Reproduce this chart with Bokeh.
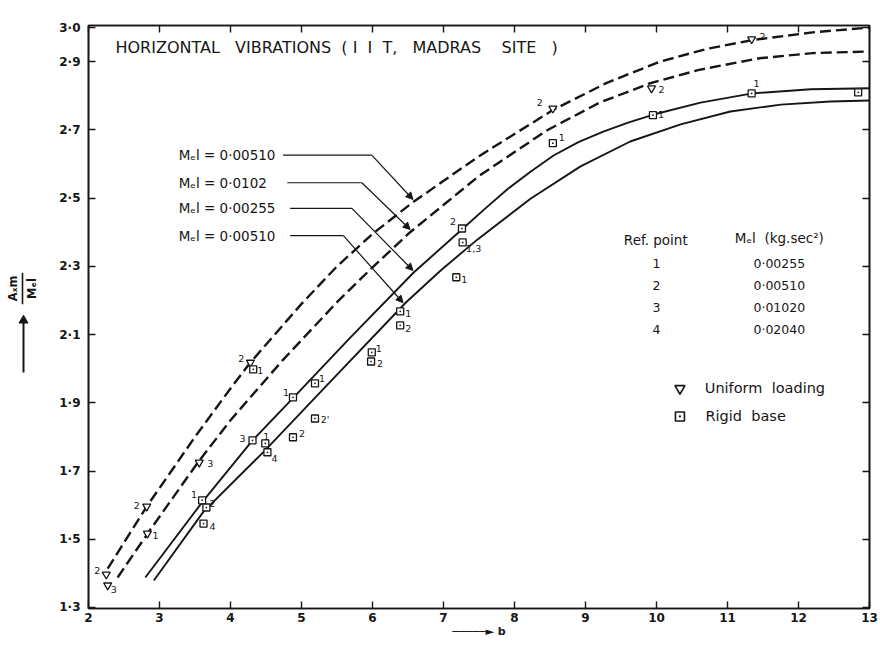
import numpy as np
from bokeh.plotting import figure
from bokeh.layouts import row
from bokeh.models import (Range1d, FixedTicker, LinearAxis, Label, Arrow, NormalHead,
                          ColumnDataSource)
from bokeh.core.properties import value
from bokeh.embed import file_html
from bokeh.resources import INLINE

# ---------------- data ----------------
# curves: b (x) and Ax m / Mel (y)
d1_b = [2.27, 2.83, 3.50, 4.00, 4.28, 5.00, 5.50, 6.00, 6.57, 7.50, 8.54, 9.30, 10.05, 10.70, 11.34, 12.20, 13.0]
d1_y = [1.414, 1.599, 1.800, 1.942, 2.018, 2.190, 2.300, 2.395, 2.488, 2.623, 2.758, 2.838, 2.900, 2.937, 2.963, 2.986, 3.000]
d2_b = [2.41, 2.87, 3.53, 4.00, 4.74, 5.50, 6.00, 6.53, 7.50, 8.46, 9.20, 9.90, 10.60, 11.45, 12.20, 13.0]
d2_y = [1.388, 1.528, 1.722, 1.849, 2.026, 2.195, 2.297, 2.400, 2.565, 2.699, 2.780, 2.836, 2.876, 2.910, 2.925, 2.930]
s1_b = [2.80, 3.61, 4.31, 4.89, 5.69, 6.58, 7.27, 7.59, 7.90, 8.23, 8.55, 8.90, 9.25, 9.61, 9.96, 10.62, 11.35, 12.17, 13.0]
s1_y = [1.388, 1.611, 1.790, 1.916, 2.092, 2.282, 2.410, 2.470, 2.526, 2.578, 2.625, 2.664, 2.695, 2.722, 2.745, 2.780, 2.807, 2.819, 2.822]
s2_b = [2.92, 3.62, 4.47, 5.41, 6.47, 6.96, 7.48, 8.23, 8.93, 9.63, 10.34, 11.04, 11.75, 12.45, 13.0]
s2_y = [1.379, 1.581, 1.757, 1.963, 2.194, 2.288, 2.379, 2.499, 2.593, 2.666, 2.716, 2.754, 2.774, 2.783, 2.786]

curve_labels = ["M\u2091l = 0\u00b700510", "M\u2091l = 0\u00b70102",
                "M\u2091l = 0\u00b700255", "M\u2091l = 0\u00b700510"]
curve_arrow_b = [6.57, 6.53, 6.57, 6.43]

# uniform loading points
ul_b = [2.25, 2.27, 2.82, 2.83, 3.56, 4.28, 8.54, 9.93, 11.34]
ul_y = [1.397, 1.365, 1.596, 1.517, 1.725, 2.018, 2.763, 2.822, 2.966]
ul_ref = ["2", "3", "2", "1", "3", "2", "2", "2", "2"]
# rigid base points
rb_b = [3.60, 3.66, 3.62, 4.32, 4.31, 4.49, 4.52, 4.88, 4.88, 5.19, 5.19, 5.99, 5.98,
        6.39, 6.39, 7.26, 7.27, 7.18, 8.54, 9.95, 11.34, 12.84]
rb_y = [1.614, 1.593, 1.546, 1.998, 1.790, 1.781, 1.755, 1.799, 1.916, 1.957, 1.854,
        2.048, 2.021, 2.168, 2.127, 2.411, 2.370, 2.268, 2.661, 2.743, 2.807, 2.810]
rb_ref = ["1", "2", "4", "1", "3", "1", "4", "2", "1", "1", "2'", "1", "2",
          "1", "2", "2", "1,3", "1", "1", "1", "1", ""]

ref_points = ["1", "2", "3", "4"]
mel_values = ["0\u00b700255", "0\u00b700510", "0\u00b701020", "0\u00b702040"]

x_ticks = list(range(2, 14))
y_ticks = [1.3, 1.5, 1.7, 1.9, 2.1, 2.3, 2.5, 2.7, 2.9, 3.0]
y_tick_labels = ["1\u00b73", "1\u00b75", "1\u00b77", "1\u00b79", "2\u00b71", "2\u00b73",
                 "2\u00b75", "2\u00b77", "2\u00b79", "3\u00b70"]

# ---------------- layout (pixel offsets for point labels) ----------------
ul_off = [(-9, -4), (6, 4), (-10, -1), (8, 2), (11, 1), (-9, -4), (-13, -6), (10, 1), (11, -3)]
rb_off = [(-8, -6), (6, -4), (9, 3), (7, 1), (-10, -2), (1, -7), (7, 6), (9, -4), (-7, -5),
          (7, -5), (10, 1), (7, -4), (9, 2), (8, 2), (8, 3), (-9, -7), (11, 6), (8, 2),
          (9, -6), (8, -1), (5, -10), (0, 0)]

PXX = 71.0   # px per unit b
PXY = 341.1  # px per unit y
NB = "\u00a0"

INK = "#161616"
FONT = "DejaVu Sans"

YR = Range1d(1.297, 3.006)
TOP, BOTTOM = 25, 36

p = figure(width=828, height=644, x_range=Range1d(2, 13), y_range=YR,
           output_backend="svg", toolbar_location=None,
           min_border_left=38, min_border_right=9, min_border_top=TOP, min_border_bottom=BOTTOM)
p.grid.visible = False
p.background_fill_color = "white"
p.border_fill_color = "white"
p.outline_line_color = INK
p.outline_line_width = 1.6

def style_axis(ax, ticks, labels=None, show=True):
    ax.ticker = FixedTicker(ticks=ticks)
    ax.axis_line_color = INK
    ax.axis_line_width = 1.6
    ax.major_tick_line_color = INK
    ax.major_tick_line_width = 1.4
    ax.major_tick_in = 7
    ax.major_tick_out = 0
    ax.minor_tick_line_color = None
    ax.major_label_text_font = FONT
    ax.major_label_text_font_style = "bold"
    ax.major_label_text_font_size = "12px"
    ax.major_label_text_color = INK
    ax.axis_label = None
    if labels is not None:
        ax.major_label_overrides = labels
    if not show:
        ax.major_label_overrides = {t: "" for t in ticks}
        ax.major_label_standoff = 0

style_axis(p.xaxis[0], x_ticks)
p.xaxis[0].major_label_standoff = 4
p.xaxis[0].axis_label = "\u2500\u2500\u2500\u2500\u2500\u25ba b"
p.xaxis[0].axis_label_standoff = 0
p.xaxis[0].axis_label_text_font = FONT
p.xaxis[0].axis_label_text_font_size = "11px"
p.xaxis[0].axis_label_text_font_style = "bold"
p.xaxis[0].axis_label_text_color = INK
style_axis(p.yaxis[0], y_ticks, {t: l for t, l in zip(y_ticks, y_tick_labels)})
p.yaxis[0].major_label_standoff = 8

top = LinearAxis()
style_axis(top, x_ticks, show=False)
p.add_layout(top, "above")
right = LinearAxis()
style_axis(right, y_ticks, show=False)
p.add_layout(right, "right")

# curves
p.line(d1_b, d1_y, line_color=INK, line_width=2.4, line_dash="11 5")
p.line(d2_b, d2_y, line_color=INK, line_width=2.4, line_dash="11 5")
p.line(s1_b, s1_y, line_color=INK, line_width=1.9)
p.line(s2_b, s2_y, line_color=INK, line_width=1.9)

# points
p.scatter(ul_b, ul_y, marker="inverted_triangle", size=8, fill_color="white",
          line_color=INK, line_width=1.3)
p.scatter(rb_b, rb_y, marker="square_dot", size=7, fill_color="white",
          line_color=INK, line_width=1.3)

def label_src(bs, ys, refs, offs):
    return ColumnDataSource(dict(
        x=[b + dx / PXX for b, (dx, dy) in zip(bs, offs)],
        y=[y - dy / PXY for y, (dx, dy) in zip(ys, offs)],
        t=refs))

for src in (label_src(ul_b, ul_y, ul_ref, ul_off), label_src(rb_b, rb_y, rb_ref, rb_off)):
    p.text("x", "y", text="t", source=src, text_font=value(FONT), text_font_size="9.5px",
           text_color=INK, text_align="center", text_baseline="middle")

# curve annotations with leader arrows
curves = [(d1_b, d1_y), (d2_b, d2_y), (s1_b, s1_y), (s2_b, s2_y)]
lab_y = [2.626, 2.545, 2.470, 2.390]
lab_x = 3.27
line_start = [4.74, 4.80, 4.84, 4.84]
elbow = [5.99, 5.85, 5.71, 5.59]
for i, (cb, cy) in enumerate(curves):
    tip_b = curve_arrow_b[i]
    tip_y = float(np.interp(tip_b, cb, cy))
    p.add_layout(Label(x=lab_x, y=lab_y[i], text=curve_labels[i], text_font=FONT,
                       text_font_size="13.5px", text_color=INK, text_baseline="middle"))
    p.line([line_start[i], elbow[i]], [lab_y[i], lab_y[i]], line_color=INK, line_width=1.2)
    p.add_layout(Arrow(x_start=elbow[i], y_start=lab_y[i], x_end=tip_b, y_end=tip_y + 0.008,
                       line_color=INK, line_width=1.2,
                       end=NormalHead(size=7, fill_color=INK, line_color=INK)))

# title
title_text = ("HORIZONTAL " + NB * 2 + "VIBRATIONS " + NB + "( I " + NB + "I " + NB + "T, "
              + NB * 2 + "MADRAS " + NB * 3 + "SITE " + NB * 2 + ")")
p.add_layout(Label(x=2.38, y=2.9416, text=title_text, text_font=FONT, text_font_size="16px",
                   text_color=INK, text_baseline="middle"))

# reference table
p.add_layout(Label(x=9.99, y=2.376, text="Ref. point", text_font=FONT, text_font_size="13.5px",
                   text_color=INK, text_align="center", text_baseline="middle"))
p.add_layout(Label(x=11.73, y=2.382, text="M\u2091l " + NB + "(kg.sec\u00b2)", text_font=FONT,
                   text_font_size="13.5px", text_color=INK, text_align="center",
                   text_baseline="middle"))
row_y0, row_dy = 2.309, 0.0647
tbl = ColumnDataSource(dict(
    xr=[10.0] * 4, xv=[11.73] * 4,
    y=[row_y0 - i * row_dy for i in range(4)],
    r=ref_points, v=mel_values))
p.text("xr", "y", text="r", source=tbl, text_font=value(FONT), text_font_size="12.5px",
       text_color=INK, text_align="center", text_baseline="middle")
p.text("xv", "y", text="v", source=tbl, text_font=value(FONT), text_font_size="12.5px",
       text_color=INK, text_align="center", text_baseline="middle")

# key
p.scatter([10.33], [1.942], marker="inverted_triangle", size=10, fill_color="white",
          line_color=INK, line_width=1.6)
p.scatter([10.33], [1.860], marker="square_dot", size=9, fill_color="white",
          line_color=INK, line_width=1.6)
p.add_layout(Label(x=10.68, y=1.942, text="Uniform " + NB + "loading", text_font=FONT,
                   text_font_size="14.5px", text_color=INK, text_baseline="middle"))
p.add_layout(Label(x=10.69, y=1.860, text="Rigid " + NB + "base", text_font=FONT,
                   text_font_size="14.5px", text_color=INK, text_baseline="middle"))

# ---------------- y-axis title panel ----------------
lf = figure(width=50, height=644, x_range=Range1d(0, 50), y_range=YR,
            x_axis_type=None, y_axis_type=None, output_backend="svg", toolbar_location=None,
            min_border_left=0, min_border_right=0, min_border_top=TOP, min_border_bottom=BOTTOM)
lf.grid.visible = False
lf.outline_line_color = None
lf.background_fill_color = "white"
lf.border_fill_color = "white"
ymid = 1.3 + (607 - 288) / PXY
lf.text([12, 31], [ymid, ymid], text=["A\u2093m", "M\u2091l"], angle=np.pi / 2,
        text_font=value(FONT), text_font_size="11.5px", text_font_style="bold",
        text_color=INK, text_align="center", text_baseline="middle")
lf.line([22, 22], [ymid - 0.046, ymid + 0.046], line_color=INK, line_width=1.6)
lf.line([23, 23], [1.3 + (607 - 372) / PXY, 1.3 + (607 - 322) / PXY], line_color=INK, line_width=2)
lf.scatter([23], [1.3 + (607 - 320) / PXY], marker="triangle", size=9,
           fill_color=INK, line_color=INK)

layout = row(lf, p)
open("out.html", "w").write(file_html(layout, INLINE))
